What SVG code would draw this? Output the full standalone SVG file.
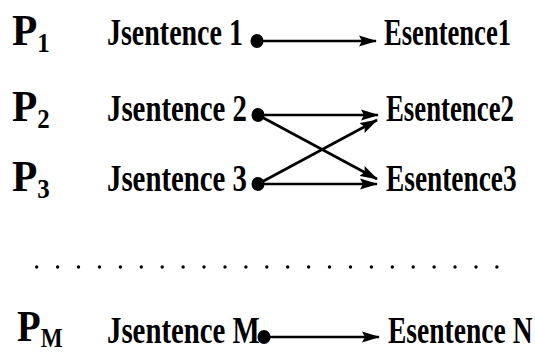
<svg xmlns="http://www.w3.org/2000/svg" width="535" height="352" viewBox="0 0 535 352">
<defs>
<style>
text{font-family:"Liberation Serif","Times New Roman",serif;font-weight:bold;fill:#000}
.p{font-size:45px}
.sub{font-size:27px}
.t{font-size:38px}
.c{stroke:#000;stroke-width:2.6;fill:none}
</style>
<marker id="ah" viewBox="0 0 18 12" refX="17" refY="6" markerWidth="18" markerHeight="12" markerUnits="userSpaceOnUse" orient="auto">
<path d="M0,0.5 L18,6 L0,11.5 L3,6 Z" fill="#000"/>
</marker>
</defs>
<rect width="535" height="352" fill="#fff"/>
<g id="p1"><text class="p" transform="translate(12,45) scale(0.92,1)">P<tspan class="sub" dy="7">1</tspan></text></g>
<g id="p2"><text class="p" transform="translate(12,121) scale(0.92,1)">P<tspan class="sub" dy="7">2</tspan></text></g>
<g id="p3"><text class="p" transform="translate(12,191) scale(0.92,1)">P<tspan class="sub" dy="7">3</tspan></text></g>
<g id="pm"><text class="p" transform="translate(17,341) scale(0.86,1)">P<tspan class="sub" dy="6">M</tspan></text></g>
<g id="j1"><text class="t" transform="translate(107,45) scale(0.736,1)">Jsentence 1</text></g>
<g id="j2"><text class="t" transform="translate(107,121) scale(0.758,1)">Jsentence 2</text></g>
<g id="j3"><text class="t" transform="translate(107,191) scale(0.758,1)">Jsentence 3</text></g>
<g id="jm"><text class="t" transform="translate(107,343) scale(0.758,1)">Jsentence M</text></g>
<g id="e1"><text class="t" transform="translate(384,45) scale(0.70,1)">Esentence1</text></g>
<g id="e2"><text class="t" transform="translate(386,121) scale(0.705,1)">Esentence2</text></g>
<g id="e3"><text class="t" transform="translate(386,191) scale(0.72,1)">Esentence3</text></g>
<g id="en"><text class="t" transform="translate(388,343) scale(0.725,1)">Esentence N</text></g>
<g id="connectors">
<ellipse cx="257" cy="41" rx="6.5" ry="7"/>
<ellipse cx="258" cy="115" rx="6.5" ry="7"/>
<ellipse cx="258" cy="184" rx="6.5" ry="7"/>
<ellipse cx="264" cy="337" rx="6.5" ry="7"/>
<line class="c" x1="257" y1="41" x2="376" y2="41" marker-end="url(#ah)"/>
<line class="c" x1="258" y1="115" x2="378" y2="115" marker-end="url(#ah)"/>
<line class="c" x1="258" y1="115" x2="377" y2="179" marker-end="url(#ah)"/>
<line class="c" x1="258" y1="184" x2="377" y2="120" marker-end="url(#ah)"/>
<line class="c" x1="258" y1="184" x2="377" y2="184" marker-end="url(#ah)"/>
<line class="c" x1="264" y1="337" x2="379" y2="337" marker-end="url(#ah)"/>
</g>
<g id="dots" fill="#000">
<circle cx="36.7" cy="267" r="1.7"/><circle cx="57.6" cy="267" r="1.7"/><circle cx="78.5" cy="267" r="1.7"/><circle cx="99.5" cy="267" r="1.7"/><circle cx="120.4" cy="267" r="1.7"/><circle cx="141.3" cy="267" r="1.7"/><circle cx="162.2" cy="267" r="1.7"/><circle cx="183.1" cy="267" r="1.7"/><circle cx="204.0" cy="267" r="1.7"/><circle cx="225.0" cy="267" r="1.7"/><circle cx="245.9" cy="267" r="1.7"/><circle cx="266.8" cy="267" r="1.7"/><circle cx="287.7" cy="267" r="1.7"/><circle cx="308.6" cy="267" r="1.7"/><circle cx="329.5" cy="267" r="1.7"/><circle cx="350.5" cy="267" r="1.7"/><circle cx="371.4" cy="267" r="1.7"/><circle cx="392.3" cy="267" r="1.7"/><circle cx="413.2" cy="267" r="1.7"/><circle cx="434.1" cy="267" r="1.7"/><circle cx="455.0" cy="267" r="1.7"/><circle cx="476.0" cy="267" r="1.7"/><circle cx="496.9" cy="267" r="1.7"/>
</g>
</svg>
